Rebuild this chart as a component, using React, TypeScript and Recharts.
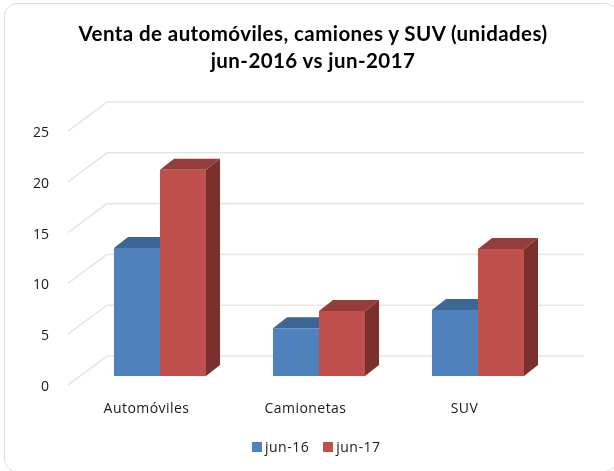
import React from "react";
import { BarChart, Bar, XAxis, YAxis, CartesianGrid, Legend } from "recharts";

const categories = ["Automóviles", "Camionetas", "SUV"];
const jun16 = [12.6, 4.7, 6.5];
const jun17 = [20.3, 6.4, 12.5];
const yTicks = [0, 5, 10, 15, 20, 25];
const titleLines = ["Venta de automóviles, camiones y SUV (unidades)", "jun-2016 vs jun-2017"];
const rows = categories.map((name, i) => ({ name, jun16: jun16[i], jun17: jun17[i] }));

const W = 614;
const H = 471;
const DX = 14;
const DY = 11;
const FONT = "'Open Sans', sans-serif";

function makeBar(front: string, top: string, side: string) {
  return (p: any) => {
    const { x, y, width, height } = p;
    return (
      <g>
        <polygon fill={side} points={`${x + width},${y} ${x + width + DX},${y - DY} ${x + width + DX},${y + height - DY} ${x + width},${y + height}`} />
        <polygon fill={top} points={`${x},${y} ${x + DX},${y - DY} ${x + width + DX},${y - DY} ${x + width},${y}`} />
        <rect x={x} y={y} width={width} height={height} fill={front} />
      </g>
    );
  };
}

const gridLine = (p: any) => {
  const y = p.y1;
  return (
    <polyline key={p.key ?? y} points={`68,${y + 9} 107,${y - 20} 584,${y - 20}`} fill="none" stroke="#e6e6e6" strokeWidth={1.6} />
  );
};

const xTick = (p: any) => (
  <text x={p.x - 13} y={413} textAnchor="middle" fontFamily={FONT} fontSize={14} letterSpacing={0.45} fill="#1a1a1a">
    {p.payload.value}
  </text>
);

const yTick = (p: any) => (
  <text x={49} y={p.y + 15} textAnchor="end" fontFamily={FONT} fontSize={14} fill="#1a1a1a">
    {p.payload.value}
  </text>
);

const legendContent = (p: any) => (
  <div style={{ display: "flex", height: 19, alignItems: "center", fontFamily: FONT, fontSize: 14, letterSpacing: 0.5, color: "#1a1a1a" }}>
    {(p.payload ?? []).map((e: any) => (
      <div key={e.value} style={{ display: "flex", alignItems: "center", marginRight: 14 }}>
        <span style={{ width: 10, height: 10, background: e.color, marginRight: 3 }} />
        <span>{e.value}</span>
      </div>
    ))}
  </div>
);

export default function App() {
  return (
    <div style={{ position: "absolute", left: 0, top: 0, width: W, height: H, background: "#fff", overflow: "hidden", filter: "blur(0.35px)" }}>
      <div style={{ position: "absolute", left: 4, top: 3, width: 612, height: 467, border: "1.5px solid #dedede", borderRadius: 13 }} />
      {titleLines.map((t, i) => (
        <div key={t} style={{ position: "absolute", left: 0, width: 626, top: 20 + i * 27, textAlign: "center", fontFamily: "Lato, sans-serif", fontWeight: 700, fontSize: 20.5, letterSpacing: 0.42, lineHeight: "27px", color: "#000" }}>
          {t}
        </div>
      ))}
      <div style={{ position: "absolute", left: 0, top: 0 }}>
        <BarChart width={W} height={H} data={rows} barGap={0} barCategoryGap={34} margin={{ top: 122, right: 57, bottom: 56, left: 79 }}>
          <CartesianGrid horizontal={gridLine} vertical={false} />
          <XAxis dataKey="name" axisLine={false} tickLine={false} tick={xTick} interval={0} height={20} />
          <YAxis domain={[0, 25]} ticks={yTicks} axisLine={false} tickLine={false} tick={yTick} width={1} />
          <Legend
            content={legendContent}
            wrapperStyle={{ position: "absolute", left: 252, top: 437, width: 170 }}
          />
          <Bar dataKey="jun16" name="jun-16" fill="#4F81BD" isAnimationActive={false} shape={makeBar("#4F81BD", "#3D6692", "#2F5078")} />
          <Bar dataKey="jun17" name="jun-17" fill="#C0504D" isAnimationActive={false} shape={makeBar("#C0504D", "#943D3A", "#7B302E")} />
        </BarChart>
      </div>
    </div>
  );
}
